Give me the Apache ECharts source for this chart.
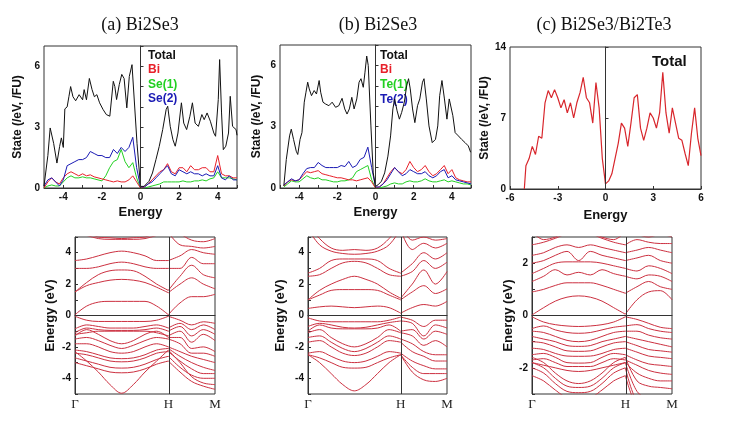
<!DOCTYPE html>
<html><head><meta charset="utf-8">
<script src="https://cdn.jsdelivr.net/npm/echarts@6/dist/echarts.min.js"></script>
<style>html,body{margin:0;padding:0;background:#fff}#c{width:730px;height:429px}</style>
</head><body><div id="c"></div>
<script>
// ---------- DOS data ----------
const energyAB = [-5.0,-4.8,-4.6,-4.4,-4.2,-4.0,-3.8,-3.6,-3.4,-3.2,-3.0,-2.8,-2.6,-2.4,-2.2,-2.0,-1.8,-1.6,-1.4,-1.2,-1.0,-0.8,-0.6,-0.4,-0.2,0.0,0.2,0.4,0.6,0.8,1.0,1.2,1.4,1.6,1.8,2.0,2.2,2.4,2.6,2.8,3.0,3.2,3.4,3.6,3.8,4.0,4.2,4.4,4.6,4.8,5.0];
// total DOS, panel (a): energies and states at read-off peaks/valleys
const totEA = [-5.0,-4.8,-4.68,-4.5,-4.33,-4.19,-4.1,-4.0,-3.92,-3.8,-3.71,-3.62,-3.5,-3.36,-3.18,-3.0,-2.92,-2.8,-2.65,-2.51,-2.39,-2.26,-2.12,-1.94,-1.77,-1.59,-1.41,-1.33,-1.24,-1.1,-0.97,-0.85,-0.71,-0.58,-0.44,-0.35,-0.18,0.0,
  0.18,0.44,0.62,0.8,0.97,1.15,1.33,1.41,1.54,1.68,1.8,1.94,2.12,2.24,2.39,2.56,2.69,2.83,3.0,3.18,3.3,3.45,3.62,3.8,3.89,4.03,4.1,4.2,4.29,4.42,4.56,4.65,4.77,4.95,5.0];
const totA = [0.1,1.6,2.96,2.2,1.23,2.05,2.47,2.0,3.9,4.0,4.5,5.0,4.5,4.3,4.6,4.35,4.85,4.35,5.4,4.85,4.5,4.6,4.2,3.87,3.62,3.54,5.26,5.0,4.36,5.1,5.6,5.4,3.95,5.5,6.08,6.0,2.2,0.08,
  0.08,0.33,0.74,1.4,2.05,2.88,3.87,4.03,3.04,2.38,2.06,2.71,4.2,3.2,2.88,3.54,4.2,3.2,3.04,3.62,3.37,3.7,3.29,2.71,2.55,4.36,6.33,3.7,1.89,2.06,2.71,4.52,3.04,2.88,2.6];
const biA = [0.0,0.3,0.5,0.3,0.2,0.5,0.7,0.8,0.7,0.6, 0.7,0.6,0.65,0.55,0.5,0.45,0.4,0.35,0.3,0.35, 0.3,0.3,0.4,0.6,0.3,0.0,0.05,0.2,0.4,0.6, 0.8,0.9,1.2,0.8,0.7,1.0,1.0,0.8,1.1,0.9, 0.9,1.0,1.0,0.8,0.8,1.6,0.7,0.6,0.6,0.5, 0.5];
const se1A = [0.0,0.1,0.15,0.1,0.1,0.3,0.5,0.6,0.5,0.5, 0.55,0.5,0.5,0.45,0.4,0.35,0.6,1.0,1.3,1.4, 1.9,1.3,1.0,1.25,0.5,0.0,0.0,0.05,0.1,0.15, 0.2,0.3,0.3,0.3,0.3,0.3,0.35,0.3,0.3,0.35, 0.35,0.4,0.35,0.45,0.5,0.8,0.5,0.5,0.5,0.45, 0.4];
const se2A = [0.1,0.4,0.5,0.3,0.1,0.4,1.1,1.2,1.3,1.4, 1.4,1.5,1.8,1.7,1.6,1.6,1.5,1.5,1.9,1.7, 2.0,1.8,2.0,2.5,1.0,0.05,0.05,0.2,0.3,0.5, 0.7,0.9,1.1,0.7,0.6,0.9,0.8,0.7,0.8,0.7, 0.7,0.6,0.7,0.6,0.6,1.1,0.5,0.4,0.6,0.4, 0.4];

// total DOS, panel (b)
const totEB = [-4.8,-4.67,-4.5,-4.41,-4.29,-4.15,-4.07,-3.95,-3.85,-3.73,-3.64,-3.55,-3.47,-3.35,-3.21,-3.09,-2.95,-2.87,-2.75,-2.61,-2.44,-2.27,-2.09,-1.92,-1.75,-1.61,-1.49,-1.37,-1.24,-1.12,-0.98,-0.86,-0.76,-0.64,-0.55,-0.46,-0.38,-0.24,-0.12,0.0,
  0.14,0.31,0.48,0.65,0.79,0.91,1.0,1.13,1.25,1.37,1.51,1.63,1.73,1.82,1.94,2.06,2.2,2.32,2.46,2.54,2.66,2.8,2.97,3.14,3.26,3.36,3.48,3.61,3.74,3.86,3.95,4.05,4.17,4.34,4.51,4.69,4.86,4.98];
const totB = [0.1,1.4,2.55,2.88,2.38,1.8,1.64,2.38,2.71,4.2,4.69,5.18,4.85,4.52,4.77,4.6,5.26,4.69,4.2,4.11,4.03,4.2,3.95,4.03,4.39,3.87,3.62,3.87,4.44,3.87,4.36,5.18,5.35,4.93,5.67,6.46,6.0,3.04,0.74,0.08,
  0.16,0.33,0.74,1.56,2.55,3.87,4.36,3.78,3.37,3.7,4.2,5.0,5.35,4.85,3.87,3.2,4.03,4.36,5.18,5.35,4.36,3.04,2.22,2.38,3.04,4.52,5.26,4.36,3.37,4.36,4.44,3.54,2.71,2.55,2.38,2.22,2.06,1.75];
const biB = [null,0.1,0.3,0.4,0.35,0.4,0.6,0.8,0.75,0.8, 0.85,0.7,0.65,0.6,0.55,0.5,0.5,0.45,0.4,0.4, 0.35,0.4,0.45,0.5,0.3,0.0,0.05,0.2,0.5,0.8, 1.0,0.8,0.7,0.9,1.3,1.0,0.8,0.9,1.1,0.8, 0.6,0.7,0.9,1.1,0.7,0.9,0.5,0.4,0.35,0.3, 0.3];
const te1B = [null,0.05,0.2,0.35,0.3,0.3,0.45,0.6,0.5,0.45, 0.5,0.4,0.4,0.35,0.3,0.3,0.35,0.35,0.4,0.5, 0.8,0.9,1.0,1.1,0.4,0.0,0.0,0.05,0.1,0.2, 0.25,0.2,0.2,0.3,0.35,0.3,0.3,0.35,0.45,0.35, 0.3,0.3,0.35,0.4,0.3,0.35,0.3,0.25,0.2,0.2, 0.15];
const te2B = [null,0.15,0.3,0.45,0.35,0.4,0.7,0.95,1.0,1.0, 1.25,1.1,1.0,1.0,1.0,1.0,1.1,1.05,1.3,1.0, 1.1,1.4,1.5,2.0,1.0,0.05,0.05,0.2,0.4,0.7, 1.0,0.8,0.6,0.7,0.9,0.8,0.7,0.7,0.8,0.6, 0.5,0.6,0.8,0.9,0.5,0.6,0.4,0.35,0.3,0.25, 0.2];

const energyC = [-5.1,-5.0,-4.8,-4.6,-4.4,-4.2,-4.0,-3.8,-3.6,-3.4,-3.2,-3.0,-2.8,-2.6,-2.4,-2.2,-2.0,-1.8,-1.6,-1.4,-1.2,-1.0,-0.8,-0.6,-0.4,-0.2,0.0,0.2,0.4,0.6,0.8,1.0,1.2,1.4,1.6,1.8,2.0,2.2,2.4,2.6,2.8,3.0,3.2,3.4,3.6,3.8,4.0,4.2,4.4,4.6,4.8,5.0,5.2,5.4,5.6,5.8,6.0];
const totalC = [0.0,2.3,3.0,4.2,3.4,5.2,5.0,8.5,9.7,9.0, 9.8,9.0,8.0,8.8,7.5,8.5,7.0,8.5,9.5,11.0, 9.0,8.5,6.5,10.5,8.0,3.0,0.5,0.8,1.5,3.0, 4.5,6.5,6.0,4.2,6.5,9.0,9.3,6.0,4.8,6.0, 7.5,7.0,6.0,7.5,11.5,7.5,5.5,8.0,6.5,5.0, 4.8,3.5,2.3,5.5,8.0,5.0,3.3];

// ---------- band data (k path Γ–H–M) ----------
const kGrid = [0,0.0833,0.1667,0.25,0.3333,0.4167,0.5,0.5833,0.6667,0.75,0.8333,0.9167,1];
const kLabels = ['Γ','H','M'];
const bandsA = [
 [0.05,0.6,0.85,0.9,0.9,0.9,0.9,0.6,0.05, 0.8,1.2,1.2,1.35],
 [1.5,1.9,2.1,2.25,2.3,2.25,2.1,1.8,1.45, 2.0,2.4,2.0,1.7],
 [1.5,2.1,2.6,2.85,2.9,2.85,2.5,2.0,1.6, 2.5,3.2,2.6,2.4],
 [3.0,3.0,3.1,3.3,3.4,3.3,3.1,3.0,3.0, 3.0,3.7,3.3,3.3],
 [3.5,3.6,3.8,4.0,4.1,4.0,3.8,3.5,3.5, 3.8,4.2,4.0,3.9],
 [5.3,5.1,4.9,4.85,4.85,4.85,4.9,5.1,5.3, 4.5,4.4,4.3,4.4],
 [5.6,5.3,5.0,4.95,4.9,4.95,5.0,5.3,5.6, 5.2,4.8,4.7,4.9],
 [-0.05,-0.3,-0.38,-0.38,-0.38,-0.38,-0.38,-0.3,-0.05, -0.3,-0.6,-0.4,-0.5],
 [-0.85,-0.6,-0.7,-0.8,-0.8,-0.8,-0.7,-0.6,-0.8, -0.5,-0.9,-0.6,-0.9],
 [-1.1,-0.8,-0.9,-0.95,-0.95,-0.95,-0.9,-0.8,-1.0, -0.7,-1.3,-0.9,-1.2],
 [-1.2,-1.1,-1.0,-1.0,-1.0,-1.0,-1.0,-1.1,-1.3, -1.0,-1.7,-1.2,-1.6],
 [-1.3,-0.9,-1.2,-1.6,-1.8,-1.6,-1.2,-1.0,-1.4, -1.4,-2.1,-2.0,-2.3],
 [-1.5,-1.4,-1.6,-1.9,-2.1,-1.9,-1.6,-1.4,-1.5, -1.8,-2.4,-2.4,-2.6],
 [-1.8,-1.8,-2.0,-2.3,-2.4,-2.3,-2.0,-1.8,-2.0, -2.3,-2.6,-2.8,-3.0],
 [-2.2,-2.3,-2.5,-2.7,-2.75,-2.7,-2.5,-2.2,-2.1, -2.6,-3.0,-3.3,-3.5],
 [-2.4,-2.5,-2.7,-2.9,-2.95,-2.9,-2.7,-2.4,-2.3, -2.9,-3.4,-3.7,-3.7],
 [-2.7,-2.9,-3.1,-3.3,-3.35,-3.3,-3.1,-2.8,-2.6, -3.3,-3.8,-4.0,-4.0],
 [-2.3,-2.9,-3.6,-4.4,-4.95,-4.4,-3.6,-2.9,-2.2, -3.0,-3.9,-4.3,-4.4],
 [-3.0,-3.2,-3.4,-3.6,-3.65,-3.6,-3.4,-3.1,-2.9, -3.6,-4.2,-4.5,-4.7]
];
const bandsB = [
 [0.45,0.55,0.6,0.55,0.5,0.55,0.6,0.5,0.15, 0.5,0.7,0.6,0.9],
 [1.0,1.3,1.6,1.65,1.65,1.65,1.6,1.3,1.0, 1.5,1.9,1.4,1.7],
 [1.0,1.6,2.0,2.3,2.5,2.3,2.0,1.5,1.1, 2.0,2.9,2.0,2.8],
 [2.5,2.6,3.0,3.35,3.45,3.35,3.0,2.6,2.5, 2.8,3.5,3.0,3.4],
 [2.7,3.0,3.5,3.6,3.6,3.6,3.5,3.0,2.7, 3.3,4.0,3.6,4.0],
 [5.5,4.5,4.1,3.95,3.9,3.95,4.1,4.5,5.5, 4.2,4.6,4.3,4.6],
 [5.8,4.9,4.3,4.15,4.2,4.15,4.3,4.9,5.8, 4.8,5.0,4.8,4.9],
 [-0.15,-0.35,-0.4,-0.4,-0.4,-0.4,-0.4,-0.3,-0.1, -0.3,-0.7,-0.3,-0.3],
 [-0.7,-0.5,-0.6,-0.75,-0.8,-0.75,-0.6,-0.45,-0.35, -0.5,-1.3,-0.6,-0.8],
 [-1.0,-0.6,-0.8,-0.85,-0.85,-0.85,-0.8,-0.6,-1.0, -0.9,-1.5,-1.0,-1.2],
 [-1.1,-0.9,-1.4,-1.8,-2.0,-1.8,-1.4,-0.9,-1.1, -1.3,-1.9,-1.6,-2.0],
 [-1.4,-1.3,-1.7,-2.1,-2.3,-2.1,-1.7,-1.3,-1.5, -1.8,-2.3,-2.5,-2.5],
 [-1.7,-1.6,-2.0,-2.4,-2.55,-2.4,-2.0,-1.6,-1.7, -2.3,-2.6,-2.9,-2.9],
 [-2.4,-2.3,-2.6,-2.9,-3.0,-2.9,-2.6,-2.3,-2.4, -2.9,-3.2,-3.4,-3.4],
 [-2.5,-2.7,-3.0,-3.3,-3.35,-3.3,-3.0,-2.7,-2.5, -3.3,-3.7,-3.7,-3.7],
 [-2.5,-3.0,-3.7,-4.4,-4.8,-4.4,-3.7,-3.0,-2.5, -3.6,-4.1,-4.2,-4.0]
];
const bandsC = [
 [0.02,0.3,0.55,0.7,0.75,0.7,0.55,0.3,0.05, 0.6,0.9,0.95,0.6],
 [0.9,1.0,1.15,1.25,1.25,1.25,1.15,1.0,0.85, 1.1,1.3,1.1,1.0],
 [1.3,1.5,1.75,1.55,1.65,1.55,1.75,1.6,1.5, 1.4,1.55,1.5,1.3],
 [1.6,1.8,2.0,2.05,2.05,2.05,2.0,1.9,1.8, 1.7,1.9,1.8,1.6],
 [2.0,2.1,2.3,2.45,2.1,2.45,2.3,2.2,2.1, 2.2,2.3,2.1,2.0],
 [2.3,2.4,2.6,2.7,2.6,2.7,2.6,2.5,2.4, 2.5,2.6,2.5,2.4],
 [2.7,2.8,2.95,3.1,3.1,3.1,2.95,2.8,2.7, 2.9,2.8,2.75,2.75],
 [3.2,2.9,3.0,3.2,3.3,3.2,3.0,2.9,3.2, 3.1,3.0,3.1,3.0],
 [-0.05,-0.25,-0.35,-0.4,-0.42,-0.4,-0.35,-0.25,-0.05, -0.15,-0.3,-0.45,-0.5],
 [-0.5,-0.4,-0.55,-0.65,-0.68,-0.65,-0.55,-0.45,-0.4, -0.35,-0.5,-0.6,-0.65],
 [-0.6,-0.65,-0.8,-0.95,-1.0,-0.95,-0.8,-0.65,-0.6, -0.6,-0.75,-0.85,-0.9],
 [-0.8,-0.9,-1.0,-1.15,-1.18,-1.15,-1.0,-0.9,-0.8, -0.9,-1.0,-1.1,-1.2],
 [-1.0,-1.05,-1.2,-1.35,-1.37,-1.35,-1.2,-1.05,-1.0, -1.15,-1.3,-1.35,-1.4],
 [-1.25,-1.3,-1.45,-1.55,-1.56,-1.55,-1.45,-1.3,-1.25, -1.4,-1.55,-1.6,-1.65],
 [-1.5,-1.45,-1.6,-1.8,-1.82,-1.8,-1.6,-1.45,-1.5, -1.7,-1.85,-1.9,-1.95],
 [-1.7,-1.65,-1.8,-1.95,-1.95,-1.95,-1.8,-1.65,-1.7, -1.9,-2.1,-2.2,-2.25],
 [-1.8,-1.9,-2.0,-2.1,-2.14,-2.1,-2.0,-1.9,-1.8, -2.2,-2.4,-2.5,-2.5],
 [-1.6,-1.8,-2.2,-2.5,-2.6,-2.5,-2.2,-1.8,-1.6, -2.5,-2.7,-2.75,-2.8],
 [-1.8,-2.0,-2.4,-2.7,-2.75,-2.7,-2.4,-2.0,-1.8, -2.9,-3.2,-3.3,-3.3],
 [-2.0,-2.2,-2.6,-2.9,-2.95,-2.9,-2.6,-2.2,-2.0, -3.3,-3.5,-3.5,-3.5],
 [-2.3,-2.5,-2.85,-3.1,-3.1,-3.1,-2.85,-2.5,-2.3, -3.5,-3.8,-3.8,-3.8]
];

// ---------- build ----------
const FONT = "'Liberation Sans', Arial, sans-serif";
const SERIF = "'Liberation Serif', 'DejaVu Serif', serif";
const C_BI = '#e8202a', C_GREEN = '#22d022', C_BLUE = '#1a1ab4', C_BAND = '#cc3040';

const grids = [
  {left:44, top:46, width:193, height:142},
  {left:280, top:45, width:191, height:143},
  {left:510, top:47, width:191, height:142},
  {left:75, top:237, width:140, height:157},
  {left:308, top:237, width:139, height:157},
  {left:532, top:237, width:140, height:157}
].map(g => Object.assign({show:true, borderColor:'#333', borderWidth:1, backgroundColor:'transparent'}, g));

const lbl = {fontFamily:FONT, fontWeight:'bold', fontSize:10, color:'#111', margin:4};
const tick = {show:true, inside:true, length:3, lineStyle:{color:'#333'}};
const nameStyle = {fontFamily:FONT, fontWeight:'bold', fontSize:13, color:'#111'};
const stateStyle = Object.assign({}, nameStyle, {fontSize:12});
function evenFmt(v){ return (Math.round(v) % 2 === 0) ? String(Math.round(v)) : ''; }
const base = {splitLine:{show:false}, axisLine:{lineStyle:{color:'#333'}}, axisTick:tick};

const xAxes = [
  Object.assign({gridIndex:0, type:'value', min:-5, max:5, interval:1, axisLabel:Object.assign({formatter:evenFmt}, lbl), name:'Energy', nameLocation:'middle', nameGap:18, nameTextStyle:nameStyle}, base),
  Object.assign({gridIndex:1, type:'value', min:-5, max:5, interval:1, axisLabel:Object.assign({formatter:evenFmt}, lbl), name:'Energy', nameLocation:'middle', nameGap:18, nameTextStyle:nameStyle}, base),
  Object.assign({gridIndex:2, type:'value', min:-6, max:6, interval:3, axisLabel:lbl, name:'Energy', nameLocation:'middle', nameGap:20, nameTextStyle:nameStyle}, base)
];
for (let g = 3; g < 6; g++) {
  xAxes.push({gridIndex:g, type:'value', min:0, max:1, interval:1/3,
    axisLabel:{fontFamily:SERIF, fontSize:13, color:'#222', margin:4,
      formatter: v => v < 0.05 ? kLabels[0] : (Math.abs(v - 2/3) < 0.05 ? kLabels[1] : (v > 0.95 ? kLabels[2] : ''))},
    axisTick:{show:false}, splitLine:{show:false}, axisLine:{lineStyle:{color:'#333'}}});
}
const fmt3 = v => (v % 3 === 0 ? String(v) : '');
const yAxes = [
  Object.assign({gridIndex:0, type:'value', min:0, max:7, interval:1, axisLabel:Object.assign({formatter:fmt3}, lbl), name:'State (/eV, /FU)', nameLocation:'middle', nameGap:20, nameTextStyle:stateStyle}, base),
  Object.assign({gridIndex:1, type:'value', min:0, max:7, interval:1, axisLabel:Object.assign({formatter:fmt3}, lbl), name:'State (/eV, /FU)', nameLocation:'middle', nameGap:17, nameTextStyle:stateStyle}, base),
  Object.assign({gridIndex:2, type:'value', min:0, max:14, interval:7, axisLabel:lbl, name:'State (/eV, /FU)', nameLocation:'middle', nameGap:16, nameTextStyle:stateStyle}, base),
  Object.assign({gridIndex:3, type:'value', min:-5, max:5, interval:1, axisLabel:Object.assign({formatter:evenFmt}, lbl), name:'Energy (eV)', nameLocation:'middle', nameGap:18, nameTextStyle:nameStyle}, base),
  Object.assign({gridIndex:4, type:'value', min:-5, max:5, interval:1, axisLabel:Object.assign({formatter:evenFmt}, lbl), name:'Energy (eV)', nameLocation:'middle', nameGap:21, nameTextStyle:nameStyle}, base),
  Object.assign({gridIndex:5, type:'value', min:-3, max:3, interval:1, axisLabel:Object.assign({formatter:evenFmt}, lbl), name:'Energy (eV)', nameLocation:'middle', nameGap:17, nameTextStyle:nameStyle}, base)
];

const series = [];
const vline = (axisVal) => ({silent:true, symbol:'none', label:{show:false}, lineStyle:{color:'#333', type:'solid', width:1}, data:[{xAxis:axisVal}]});
function dos(gi, xs, ys, color, width, withLine) {
  const s = {type:'line', xAxisIndex:gi, yAxisIndex:gi, data: xs.map((x, i) => [x, ys[i]]),
    showSymbol:false, symbol:'none', connectNulls:false, lineStyle:{color:color, width:width}, itemStyle:{color:color}, silent:true, z:3};
  if (withLine) s.markLine = vline(0);
  series.push(s);
}
dos(0, energyAB, se1A, C_GREEN, 1, false);
dos(0, energyAB, biA, C_BI, 1, false);
dos(0, energyAB, se2A, C_BLUE, 1, false);
dos(0, totEA, totA, '#111', 1, true);
dos(1, energyAB, te1B, C_GREEN, 1, false);
dos(1, energyAB, biB, C_BI, 1, false);
dos(1, energyAB, te2B, C_BLUE, 1, false);
dos(1, totEB, totB, '#111', 1, true);
dos(2, energyC, totalC, '#d8262c', 1.2, true);

function bands(gi, arr) {
  arr.forEach((b, bi) => {
    const seg1 = [], seg2 = [];
    for (let i = 0; i <= 8; i++) seg1.push([kGrid[i], b[i]]);
    for (let i = 8; i < kGrid.length; i++) seg2.push([kGrid[i], b[i]]);
    [seg1, seg2].forEach((d, si) => {
      const s = {type:'line', xAxisIndex:gi, yAxisIndex:gi, data:d, smooth:0.35, showSymbol:false, symbol:'none',
        lineStyle:{color:C_BAND, width:1}, silent:true, clip:true};
      if (bi === 0 && si === 0) s.markLine = {silent:true, symbol:'none', label:{show:false},
        lineStyle:{color:'#333', type:'solid', width:1}, data:[{xAxis:kGrid[8]}, {yAxis:0}]};
      series.push(s);
    });
  });
}
bands(3, bandsA);
bands(4, bandsB);
bands(5, bandsC);

const legendText = (x, y, text, color, size) => ({type:'text', left:x, top:y,
  style:{text:text, fill:color, font:'bold ' + (size || 12) + 'px ' + FONT}});

const graphic = [
  {type:'text', x:140, y:16, style:{text:'(a) Bi2Se3', fill:'#111', font:'18px ' + SERIF, textAlign:'center'}},
  {type:'text', x:378, y:16, style:{text:'(b) Bi2Se3', fill:'#111', font:'18px ' + SERIF, textAlign:'center'}},
  {type:'text', x:604, y:16, style:{text:'(c) Bi2Se3/Bi2Te3', fill:'#111', font:'18px ' + SERIF, textAlign:'center'}},
  legendText(148, 50, 'Total', '#111'),
  legendText(148, 64, 'Bi', C_BI),
  legendText(148, 79, 'Se(1)', C_GREEN),
  legendText(148, 93, 'Se(2)', C_BLUE),
  legendText(380, 50, 'Total', '#111'),
  legendText(380, 64, 'Bi', C_BI),
  legendText(380, 79, 'Te(1)', C_GREEN),
  legendText(380, 94, 'Te(2)', C_BLUE),
  legendText(652, 54, 'Total', '#111', 15)
];

const chart = echarts.init(document.getElementById('c'), null, {renderer:'canvas'});
chart.setOption({animation:false, backgroundColor:'#fff', grid:grids, xAxis:xAxes, yAxis:yAxes, series:series, graphic:graphic});
</script></body></html>
